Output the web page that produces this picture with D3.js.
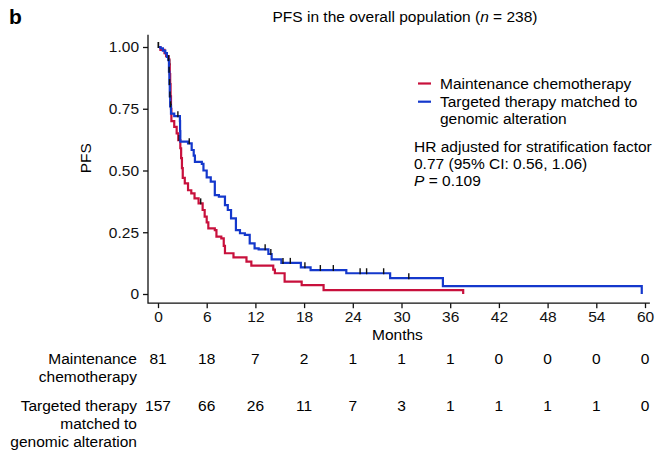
<!DOCTYPE html>
<html>
<head>
<meta charset="utf-8">
<script src="https://cdn.jsdelivr.net/npm/d3@7"></script>
<style>
  body { margin: 0; background: #fff; }
  svg { font-family: "Liberation Sans", Arial, sans-serif; }
</style>
</head>
<body>
<div id="graph"></div>
<script>
var w = 656;
var h = 453;
var fs = "15.5px";

// Kaplan-Meier steps (months, survival after the step)
var chemoTimes = [0, 0.3, 0.8, 1.0, 1.3, 1.4, 1.45, 1.5, 1.55, 1.6, 1.65, 2.0, 2.3, 2.5, 2.75, 2.85, 2.95, 3.05, 3.3, 3.7, 4.1, 4.5, 5.0, 5.5, 5.75, 6.0, 6.2, 7.0, 7.2, 7.8, 8.1, 8.25, 9.3, 10.9, 11.5, 14.2, 14.4, 15.6, 17.7, 20.4, 37.6];
var chemoSurv  = [1, 0.988, 0.975, 0.963, 0.95, 0.93, 0.89, 0.85, 0.80, 0.75, 0.70, 0.677, 0.65, 0.623, 0.59, 0.55, 0.51, 0.47, 0.448, 0.42, 0.407, 0.387, 0.367, 0.34, 0.313, 0.29, 0.266, 0.259, 0.232, 0.225, 0.195, 0.165, 0.148, 0.131, 0.115, 0.099, 0.084, 0.05, 0.036, 0.016, 0];
var chemoCensor = [0.05, 1.42, 1.62, 2.6, 5.26];

var targetTimes = [0, 0.3, 0.6, 0.9, 1.1, 1.27, 1.35, 1.4, 1.45, 1.5, 1.6, 2.0, 2.7, 2.72, 2.75, 3.7, 4.15, 4.4, 4.55, 5.4, 5.6, 6.0, 6.5, 7.0, 7.5, 8.25, 8.6, 9.0, 9.6, 10.1, 10.7, 11.3, 11.9, 12.4, 13.6, 14.0, 15.2, 17.6, 18.8, 23.2, 28.6, 35.1, 59.6];
var targetSurv  = [1, 0.995, 0.985, 0.975, 0.96, 0.947, 0.90, 0.85, 0.80, 0.76, 0.73, 0.72, 0.70, 0.66, 0.617, 0.61, 0.583, 0.56, 0.535, 0.527, 0.50, 0.472, 0.455, 0.40, 0.394, 0.36, 0.34, 0.306, 0.259, 0.246, 0.239, 0.205, 0.185, 0.181, 0.162, 0.14, 0.126, 0.108, 0.097, 0.084, 0.064, 0.032, 0];
var targetCensor = [0.05, 1.3, 1.37, 1.42, 1.47, 1.55, 2.45, 3.85, 13.2, 13.9, 15.4, 16.3, 18.1, 20.0, 21.6, 24.9, 25.7, 27.8, 30.9];

var xTicks = [0, 6, 12, 18, 24, 30, 36, 42, 48, 54, 60];
var yTicks = [0, 0.25, 0.5, 0.75, 1];
var atRiskChemo  = [81, 18, 7, 2, 1, 1, 1, 0, 0, 0, 0];
var atRiskTarget = [157, 66, 26, 11, 7, 3, 1, 1, 1, 1, 0];

var red = "#c8103c";
var blue = "#1438cc";

var x = d3.scaleLinear().domain([0, 60]).range([158, 645]);
var y = d3.scaleLinear().domain([0, 1]).range([294, 47]);

var svg = d3.select("#graph")
  .append("svg")
  .attr("width", w)
  .attr("height", h);

// panel letter + title
svg.append("text")
  .attr("x", 9).attr("y", 24)
  .attr("font-size", "21px").attr("font-weight", "bold")
  .text("b");

var title = svg.append("text")
  .attr("x", 405).attr("y", 22)
  .attr("text-anchor", "middle")
  .attr("font-size", fs);
title.append("tspan").text("PFS in the overall population (");
title.append("tspan").attr("font-style", "italic").text("n");
title.append("tspan").text(" = 238)");

// axes
var axisY = y(-0.037);
var yAxis = d3.axisLeft(y)
  .tickValues(yTicks)
  .tickSize(5)
  .tickPadding(4)
  .tickFormat(function(d) { return d === 0 ? "0" : d3.format(".2f")(d); });

var gy = svg.append("g")
  .attr("transform", "translate(148,0)")
  .call(yAxis);
gy.select(".domain").remove();
gy.selectAll("text").attr("font-size", fs).attr("fill", "#111");

var xAxis = d3.axisBottom(x)
  .tickValues(xTicks)
  .tickSize(5)
  .tickPadding(3);

var gx = svg.append("g")
  .attr("transform", "translate(0," + axisY + ")")
  .call(xAxis);
gx.select(".domain").remove();
gx.selectAll("text").attr("font-size", fs).attr("fill", "#111");

svg.append("path")
  .attr("d", "M148," + y(1.05) + "V" + axisY + "H" + x(60.6))
  .attr("fill", "none")
  .attr("stroke", "#111")
  .attr("stroke-width", 1.3);

svg.selectAll(".tick line").attr("stroke", "#111").attr("stroke-width", 1.3);

svg.append("text")
  .attr("x", x(29.5)).attr("y", 340)
  .attr("text-anchor", "middle")
  .attr("font-size", fs)
  .text("Months");

svg.append("text")
  .attr("transform", "translate(91," + y(0.55) + ") rotate(-90)")
  .attr("text-anchor", "middle")
  .attr("font-size", fs)
  .text("PFS");

// curves
var line = d3.line()
  .x(function(d) { return x(d[0]); })
  .y(function(d) { return y(d[1]); })
  .curve(d3.curveStepAfter);

function survAt(times, surv, t) {
  var s = 1;
  for (var i = 0; i < times.length; i++) {
    if (times[i] <= t) s = surv[i];
  }
  return s;
}

function drawArm(times, surv, censor, colour) {
  var pts = d3.zip(times, surv);
  svg.append("path")
    .datum(pts)
    .attr("d", line)
    .attr("fill", "none")
    .attr("stroke", colour)
    .attr("stroke-width", 2.2);

  svg.selectAll(null)
    .data(censor)
    .enter()
    .append("line")
    .attr("x1", function(d) { return x(d); })
    .attr("x2", function(d) { return x(d); })
    .attr("y1", function(d) { return y(survAt(times, surv, d)) - 5; })
    .attr("y2", function(d) { return y(survAt(times, surv, d)) + 1; })
    .attr("stroke", "#111")
    .attr("stroke-width", 1.4);
}

drawArm(chemoTimes, chemoSurv, chemoCensor, red);
drawArm(targetTimes, targetSurv, targetCensor, blue);

// legend
var legend = [
  { c: red, lines: ["Maintenance chemotherapy"] },
  { c: blue, lines: ["Targeted therapy matched to", "genomic alteration"] }
];
var ly = [83.5, 101.7];
legend.forEach(function(d, i) {
  svg.append("line")
    .attr("x1", 418).attr("x2", 431)
    .attr("y1", ly[i]).attr("y2", ly[i])
    .attr("stroke", d.c).attr("stroke-width", 2.2);
  d.lines.forEach(function(t, j) {
    svg.append("text")
      .attr("x", 440).attr("y", ly[i] + 5 + j * 17.5)
      .attr("font-size", fs)
      .text(t);
  });
});

var hr = ["HR adjusted for stratification factor", "0.77 (95% CI: 0.56, 1.06)"];
hr.forEach(function(t, i) {
  svg.append("text")
    .attr("x", 414).attr("y", 152 + i * 17)
    .attr("font-size", fs)
    .text(t);
});
var p = svg.append("text")
  .attr("x", 414).attr("y", 186)
  .attr("font-size", fs);
p.append("tspan").attr("font-style", "italic").text("P");
p.append("tspan").text(" = 0.109");

// numbers at risk
var rows = [
  { label: ["Maintenance", "chemotherapy"], vals: atRiskChemo, y: 364 },
  { label: ["Targeted therapy", "matched to", "genomic alteration"], vals: atRiskTarget, y: 411 }
];
rows.forEach(function(r) {
  r.label.forEach(function(t, j) {
    svg.append("text")
      .attr("x", 137).attr("y", r.y + j * 18)
      .attr("text-anchor", "end")
      .attr("font-size", fs)
      .text(t);
  });
  svg.selectAll(null)
    .data(r.vals)
    .enter()
    .append("text")
    .attr("x", function(d, i) { return x(xTicks[i]); })
    .attr("y", r.y)
    .attr("text-anchor", "middle")
    .attr("font-size", fs)
    .text(function(d) { return d; });
});
</script>
</body>
</html>
